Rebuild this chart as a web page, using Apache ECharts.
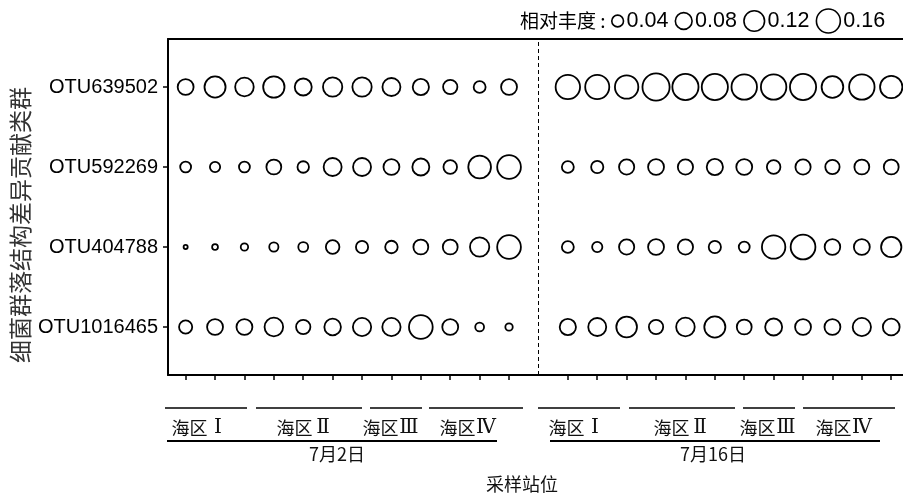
<!DOCTYPE html>
<html>
<head>
<meta charset="utf-8">
<script src="https://cdn.jsdelivr.net/npm/echarts@6/dist/echarts.min.js"></script>
<style>
  html, body { margin: 0; padding: 0; background: #fff; }
  #chart { width: 903px; height: 501px; }
</style>
</head>
<body>
<div id="chart"></div>
<script>
// OTU rows, listed bottom to top
const otuNames = ['OTU1016465', 'OTU404788', 'OTU592269', 'OTU639502'];

// relative abundance at the 12 stations of each sampling date
const otu639502_jul2  = [0.077, 0.131, 0.103, 0.134, 0.087, 0.111, 0.111, 0.097, 0.080, 0.063, 0.045, 0.077];
const otu639502_jul16 = [0.174, 0.169, 0.160, 0.213, 0.198, 0.198, 0.188, 0.188, 0.198, 0.138, 0.188, 0.147];
const otu592269_jul2  = [0.038, 0.034, 0.038, 0.068, 0.042, 0.097, 0.097, 0.077, 0.087, 0.057, 0.151, 0.164];
const otu592269_jul16 = [0.045, 0.047, 0.071, 0.077, 0.071, 0.080, 0.077, 0.057, 0.071, 0.063, 0.068, 0.068];
const otu404788_jul2  = [0.007, 0.0125, 0.019, 0.028, 0.032, 0.057, 0.047, 0.049, 0.068, 0.068, 0.111, 0.164];
const otu404788_jul16 = [0.045, 0.034, 0.071, 0.077, 0.071, 0.047, 0.038, 0.160, 0.178, 0.074, 0.077, 0.122];
const otu1016465_jul2  = [0.054, 0.077, 0.077, 0.103, 0.063, 0.083, 0.100, 0.100, 0.164, 0.077, 0.026, 0.019];
const otu1016465_jul16 = [0.080, 0.097, 0.126, 0.063, 0.103, 0.131, 0.068, 0.087, 0.077, 0.077, 0.100, 0.085];

// size legend breaks
const legendValues = [0.04, 0.08, 0.12, 0.16];

// station slots on the x axis: date 1 at 1..12, gap at 13, date 2 at 14..25
const jul2Slots = [1,2,3,4,5,6,7,8,9,10,11,12];
const jul16Slots = [14,15,16,17,18,19,20,21,22,23,24,25];
const separatorSlot = 13;

const rows = [
  { name: 'OTU1016465', a: otu1016465_jul2, b: otu1016465_jul16 },
  { name: 'OTU404788',  a: otu404788_jul2,  b: otu404788_jul16 },
  { name: 'OTU592269',  a: otu592269_jul2,  b: otu592269_jul16 },
  { name: 'OTU639502',  a: otu639502_jul2,  b: otu639502_jul16 }
];

const STROKE = 1.8;
// circle area proportional to abundance (outer diameter in px)
function diameter(v) { return 61 * Math.sqrt(v); }

const points = [];
rows.forEach(r => {
  const y = otuNames.indexOf(r.name) + 1;
  r.a.forEach((v, k) => points.push([jul2Slots[k], y, v]));
  r.b.forEach((v, k) => points.push([jul16Slots[k], y, v]));
});

const CJK = '"Noto Sans CJK SC", "Noto Sans", sans-serif';
const LAT = '"Liberation Sans", Arial, sans-serif';
const SERIF = '"Liberation Serif", "DejaVu Serif", serif';
const TXT = '#111';
const FRAME = { color: '#000', width: 2 };

// legend rich text with ring tokens
const legendRich = {
  t: { fontFamily: CJK, fontSize: 19, color: TXT, verticalAlign: 'middle', padding: [0, 2, 0, 0] },
  v: { fontFamily: LAT, fontSize: 21.5, color: '#000', verticalAlign: 'middle', padding: [0, 7, 0, 3] }
};
let legendText = '{t|相对丰度 : }';
legendValues.forEach((v, i) => {
  const d = diameter(v) - 0.5;
  legendRich['c' + i] = {
    width: d, height: d, borderRadius: d / 2,
    borderColor: '#000', borderWidth: 1.6, verticalAlign: 'middle'
  };
  legendText += '{c' + i + '|}{v|' + v.toFixed(2) + '}';
});

// station-group annotations under the x axis
const groupBars = [[165,247],[256,362],[370,422],[429,523],[538,620],[629,735],[743,795],[803,895]];
const dateBars = [[167,497],[550,880]];
const regionLabels = [
  ['Ⅰ',200],['Ⅱ',305],['Ⅲ',391],['Ⅳ',468],
  ['Ⅰ',577],['Ⅱ',682],['Ⅲ',768],['Ⅳ',844]
];
const dateLabels = [['7月2日',337],['7月16日',713]];

const graphics = [];
groupBars.forEach(b => graphics.push({
  type: 'line', shape: { x1: b[0], y1: 408, x2: b[1], y2: 408 },
  style: { stroke: '#000', lineWidth: 1.5 }, silent: true
}));
dateBars.forEach(b => graphics.push({
  type: 'line', shape: { x1: b[0], y1: 441, x2: b[1], y2: 441 },
  style: { stroke: '#000', lineWidth: 2 }, silent: true
}));
regionLabels.forEach(r => graphics.push({
  type: 'text', x: r[1], y: 428,
  style: {
    text: '海区{n|' + r[0] + '}', align: 'center', verticalAlign: 'middle',
    fontFamily: CJK, fontSize: 18, fill: TXT,
    rich: { n: { fontFamily: SERIF, fontSize: 20, color: TXT, width: 21, align: 'center' } }
  }
}));
dateLabels.forEach(d => graphics.push({
  type: 'text', x: d[1], y: 454,
  style: { text: d[0], align: 'center', verticalAlign: 'middle', fontFamily: CJK, fontSize: 18, fill: TXT }
}));
graphics.push({
  type: 'text', x: 522, y: 484,
  style: { text: '采样站位', align: 'center', verticalAlign: 'middle', fontFamily: CJK, fontSize: 18, fill: TXT }
});
graphics.push({
  type: 'text', x: 20, y: 225, rotation: Math.PI / 2,
  style: { text: '细菌群落结构差异贡献类群', align: 'center', verticalAlign: 'middle', fontFamily: CJK, fontSize: 23, fill: '#333' }
});
graphics.push({
  type: 'text', x: 520, y: 21,
  style: { text: legendText, align: 'left', verticalAlign: 'middle', rich: legendRich }
});

const xMin = 0.4, xMax = 25.4;

const chart = echarts.init(document.getElementById('chart'), null, { renderer: 'canvas' });
chart.setOption({
  animation: false,
  backgroundColor: '#fff',
  grid: { left: 168, top: 39, right: 0, bottom: 126, show: false },
  xAxis: [{
    type: 'value', min: xMin, max: xMax, position: 'bottom',
    axisLine: { show: true, lineStyle: FRAME },
    splitLine: { show: false },
    axisTick: {
      show: true, customValues: jul2Slots.concat(jul16Slots), length: 5, inside: false,
      lineStyle: { color: '#000', width: 1.5 }
    },
    axisLabel: { show: false, customValues: jul2Slots.concat(jul16Slots) }
  }, {
    // top frame edge
    type: 'value', min: xMin, max: xMax, position: 'top',
    axisLine: { show: true, lineStyle: FRAME },
    axisTick: { show: false }, axisLabel: { show: false }, splitLine: { show: false }
  }],
  yAxis: {
    type: 'value', min: 0.4, max: 4.6,
    axisLine: { show: true, lineStyle: FRAME },
    splitLine: { show: false },
    axisTick: {
      show: true, customValues: [1, 2, 3, 4], length: 5,
      lineStyle: { color: '#000', width: 1.5 }
    },
    axisLabel: {
      show: true, customValues: [1, 2, 3, 4], margin: 10,
      fontFamily: LAT, fontSize: 20, color: '#000',
      formatter: v => otuNames[Math.round(v) - 1] || ''
    }
  },
  series: [{
    type: 'scatter',
    data: points,
    symbol: 'circle',
    symbolSize: d => Math.max(diameter(d[2]) - STROKE + 0.8, 1),
    itemStyle: { color: 'rgba(0,0,0,0)', borderColor: '#000', borderWidth: STROKE, opacity: 1 },
    clip: false,
    markLine: {
      silent: true, symbol: 'none', label: { show: false },
      lineStyle: { color: '#000', type: [4, 3], width: 1 },
      data: [{ xAxis: separatorSlot }]
    }
  }],
  graphic: graphics
});
</script>
</body>
</html>
